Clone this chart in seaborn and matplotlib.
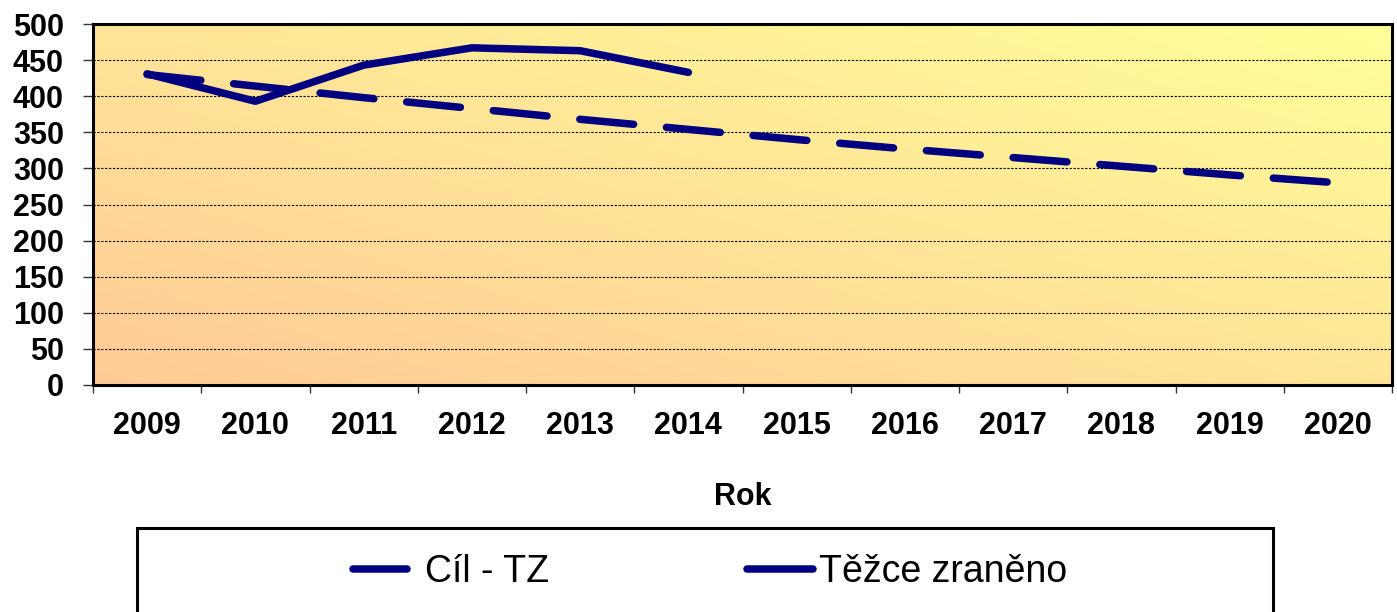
import matplotlib
matplotlib.use("Agg")
import matplotlib.pyplot as plt
import matplotlib.patches as mpatches
import seaborn as sns
import numpy as np
import pandas as pd

# data
years = [2009, 2010, 2011, 2012, 2013, 2014, 2015, 2016, 2017, 2018, 2019, 2020]
target = [430, 414, 398, 383, 368, 354, 340, 327, 315, 303, 291, 280]
actual_years = [2009, 2010, 2011, 2012, 2013, 2014]
actual = [431, 393, 443, 467, 463, 433]

NAVY = '#000080'

sns.set_theme(style="ticks")
plt.rcParams['font.family'] = ['Liberation Sans', 'DejaVu Sans']
plt.rcParams['text.color'] = 'black'

fig = plt.figure(figsize=(13.97, 6.12), dpi=100)
ax = fig.add_axes([93/1397, 1 - 385/612, (1392-93)/1397, (385-24)/612])

# diagonal orange -> yellow background
gx, gy = np.meshgrid(np.linspace(0, 1, 300), np.linspace(0, 1, 100))
t = (gx + gy) / 2
c0 = np.array([255, 202, 150]) / 255
c1 = np.array([255, 255, 153]) / 255
img = c0[None, None, :] * (1 - t[..., None]) + c1[None, None, :] * t[..., None]
ax.imshow(img, extent=[0, 1, 0, 1], transform=ax.transAxes, origin='lower',
          aspect='auto', zorder=0, interpolation='bilinear')

dt_target = pd.DataFrame({'year': years, 'value': target})
dt_actual = pd.DataFrame({'year': actual_years, 'value': actual})

sns.lineplot(x='year', y='value', data=dt_target, ax=ax, color=NAVY, lw=5.4,
             linestyle=(0, (7.2, 4.4)), dash_capstyle='round', label='Cíl - TZ', zorder=3)
sns.lineplot(x='year', y='value', data=dt_actual, ax=ax, color=NAVY, lw=5.4,
             solid_capstyle='round', solid_joinstyle='round', label='Těžce zraněno', zorder=3)

ax.set_xlim(2008.5, 2020.5)
ax.set_ylim(0, 500)
ax.set_yticks(np.arange(0, 501, 50))
ax.set_xticks(years)
ax.set_xticks(np.arange(2008.5, 2021, 1), minor=True)
ax.tick_params(axis='x', which='major', length=0, pad=19, labelsize=22)
ax.tick_params(axis='x', which='minor', length=6, width=1, color='#333333', direction='out')
ax.tick_params(axis='y', length=7, width=1, color='#333333', pad=14, labelsize=22, direction='out')
for lab in ax.get_xticklabels() + ax.get_yticklabels():
    lab.set_fontweight('bold')
    lab.set_color('black')

ax.yaxis.grid(True, color='black', linestyle=(0, (2, 1.5)), linewidth=0.8, zorder=1)
ax.set_axisbelow(False)
for s in ax.spines.values():
    s.set_visible(True)
    s.set_linewidth(2.2)
    s.set_color('black')
    s.set_zorder(4)

ax.set_xlabel('Rok', fontsize=22, fontweight='bold', color='black')
ax.xaxis.set_label_coords(0.5, -0.268)
ax.set_ylabel('')

handles, labels = ax.get_legend_handles_labels()
ax.get_legend().remove()
fig.legend(handles, labels, loc='center', bbox_to_anchor=(710/1397, 1 - 572/612),
           ncol=2, frameon=False, fontsize=27, handlelength=1.75, handletextpad=0.15,
           columnspacing=5.3, labelcolor='black')

box = mpatches.Rectangle((137/1397, -0.1), (1273-137)/1397, 0.1 + (612-528)/612,
                         transform=fig.transFigure, fill=False, edgecolor='black',
                         linewidth=2.2, clip_on=False)
fig.add_artist(box)

plt.savefig('out.png', dpi=100)
